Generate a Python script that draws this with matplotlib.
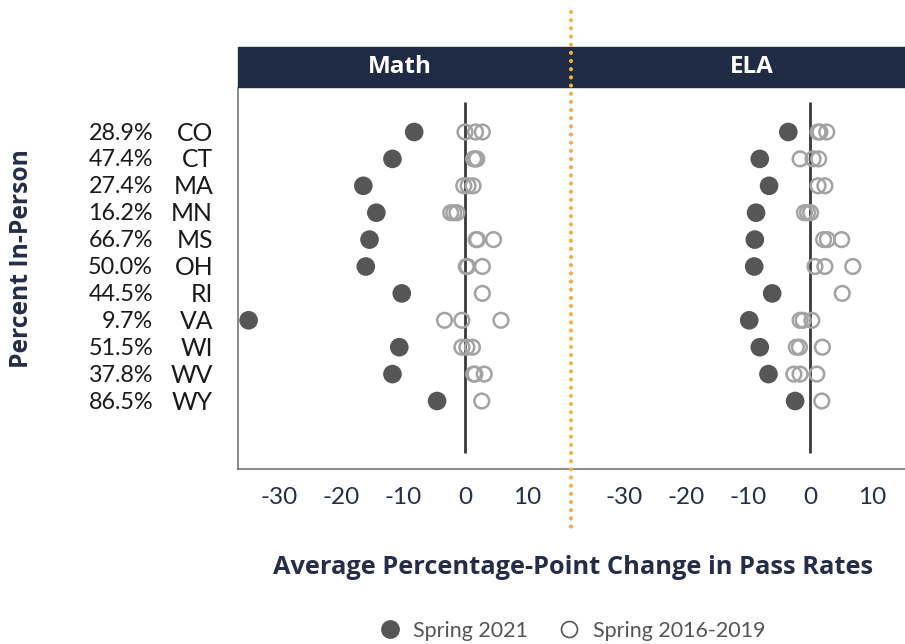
import matplotlib
matplotlib.use("Agg")
import matplotlib.pyplot as plt
from matplotlib import font_manager
from matplotlib.lines import Line2D
from matplotlib.patches import Rectangle
from matplotlib.transforms import blended_transform_factory

# ---------------- data ----------------
states = ["CO", "CT", "MA", "MN", "MS", "OH", "RI", "VA", "WI", "WV", "WY"]
pct_in_person = ["28.9%", "47.4%", "27.4%", "16.2%", "66.7%", "50.0%",
                 "44.5%", "9.7%", "51.5%", "37.8%", "86.5%"]
math_2021 = [-8.2, -11.7, -16.4, -14.3, -15.4, -16.0, -10.2, -34.9, -10.6, -11.7, -4.5]
ela_2021 = [-3.5, -8.1, -6.6, -8.7, -8.9, -9.0, -6.1, -9.8, -8.1, -6.7, -2.4]
math_base = [
    [0.0, 1.7, 2.8],
    [1.4, 1.7, 1.9],
    [-0.2, 0.5, 1.3],
    [-2.3, -1.8, -1.3],
    [1.8, 2.0, 4.6],
    [0.2, 0.4, 2.8],
    [2.8],
    [-3.3, -0.5, 5.8],
    [-0.5, 0.3, 1.2],
    [1.4, 1.6, 3.1],
    [2.7],
]
ela_base = [
    [1.3, 1.6, 2.7],
    [-1.6, 0.5, 1.4],
    [1.3, 2.4],
    [-0.9, -0.4, 0.1],
    [2.2, 2.8, 5.1],
    [0.8, 2.4, 6.9],
    [5.2],
    [-1.6, -1.1, 0.3],
    [-2.2, -1.7, 2.0],
    [-2.6, -1.6, 1.1],
    [1.9],
]
panels = ["Math", "ELA"]
xticks = [-30, -20, -10, 0, 10]
xlabel = "Average Percentage-Point Change in Pass Rates"
ylabel = "Percent In-Person"
legend_labels = ["Spring 2021", "Spring 2016-2019"]

# ---------------- style ----------------
names = {f.name for f in font_manager.fontManager.ttflist}
main_font = "Lato" if "Lato" in names else "DejaVu Sans"
bold_font = "Open Sans" if "Open Sans" in names else main_font
plt.rcParams["font.family"] = [main_font, "DejaVu Sans"]

NAVY = "#1F2A44"
TEXT_NAVY = "#262D4A"
FILLED = "#565656"
OPEN = "#A3A3A3"
ORANGE = "#F7AE45"

W, H = 905, 644
fig = plt.figure(figsize=(W / 100, H / 100), dpi=100)

def fx(px):
    return px / W

def fy(py):
    return 1 - py / H

top_px, bot_px = 88, 469
ax_l = fig.add_axes([fx(238), fy(bot_px), fx(571 - 238), (bot_px - top_px) / H])
ax_r = fig.add_axes([fx(571), fy(bot_px), fx(905 - 571), (bot_px - top_px) / H])

row0, rstep = 132, 26.9
ylim = ((bot_px - row0) / rstep, (top_px - row0) / rstep)
zl_top = (102 - row0) / rstep
zl_bot = (453 - row0) / rstep

rows = list(range(len(states)))
configs = [
    (ax_l, math_2021, math_base, (-227 / 6.2, (571 - 465) / 6.2)),
    (ax_r, ela_2021, ela_base, ((571 - 810) / 6.2, (905 - 810) / 6.2)),
]
for ax, cur, base, xl in configs:
    ax.set_xlim(*xl)
    ax.set_ylim(*ylim)
    ax.vlines(0, zl_top, zl_bot, color="#3a3a3a", lw=2.0, zorder=1)
    bx, by = [], []
    for i, vals in enumerate(base):
        for v in vals:
            bx.append(v)
            by.append(i)
    ax.scatter(bx, by, s=112, facecolors="none", edgecolors=OPEN, linewidths=1.8, zorder=3)
    ax.scatter(cur, rows, s=180, color=FILLED, edgecolors="none", zorder=4)
    ax.set_xticks(xticks)
    ax.set_xticklabels([str(t) for t in xticks], fontsize=17.5, color=TEXT_NAVY)
    ax.tick_params(axis="x", length=0, pad=13)
    ax.set_yticks([])
    for s in ["top", "right"]:
        ax.spines[s].set_visible(False)
    ax.spines["bottom"].set_color("#6a6a6a")
    ax.spines["bottom"].set_linewidth(1.1)
    ax.spines["left"].set_color("#6a6a6a")
    ax.spines["left"].set_linewidth(1.1)
    ax.patch.set_alpha(0)
ax_r.spines["left"].set_visible(False)

# state labels
tr = blended_transform_factory(fig.transFigure, ax_l.transData)
for i, (p, st) in enumerate(zip(pct_in_person, states)):
    ax_l.text(fx(153), i + 0.04, p, transform=tr, ha="right", va="center",
              fontsize=16.8, color="#1a1a1a", clip_on=False)
    ax_l.text(fx(213), i + 0.04, st, transform=tr, ha="right", va="center",
              fontsize=17.8, color="#1a1a1a", clip_on=False)

# header bar
fig.patches.append(Rectangle((fx(238), fy(87)), fx(905 - 238), (87 - 47) / H,
                             transform=fig.transFigure, color=NAVY, zorder=0))
fig.text(fx(400), fy(67), panels[0], ha="center", va="center", color="white",
         fontsize=17.5, fontweight="bold", family=bold_font)
fig.text(fx(752), fy(67), panels[1], ha="center", va="center", color="white",
         fontsize=17.5, fontweight="bold", family=bold_font)

# orange dotted divider
fig.lines.append(Line2D([fx(571), fx(571)], [fy(12), fy(530)], transform=fig.transFigure,
                        color=ORANGE, lw=3, linestyle=(0, (0.01, 1.95)),
                        dash_capstyle="round", zorder=10))

# axis titles
fig.text(fx(573), fy(568), xlabel, ha="center", va="center", color=TEXT_NAVY,
         fontsize=18.3, fontweight="bold", family=bold_font)
fig.text(fx(22), fy(259), ylabel, ha="center", va="center", rotation=90,
         color=TEXT_NAVY, fontsize=17.7, fontweight="bold", family=bold_font)

# legend
handles = [
    Line2D([], [], marker="o", linestyle="none", markersize=12.5, markerfacecolor=FILLED,
           markeredgecolor=FILLED),
    Line2D([], [], marker="o", linestyle="none", markersize=11.5, markerfacecolor="white",
           markeredgecolor="#555555", markeredgewidth=1.2),
]
fig.legend(handles, legend_labels, loc="center", bbox_to_anchor=(fx(572), fy(631)),
           ncol=2, frameon=False, fontsize=15.5, labelcolor="#555555",
           handletextpad=0.6, columnspacing=1.4, handlelength=1.0)

fig.savefig("out.png", dpi=100)
